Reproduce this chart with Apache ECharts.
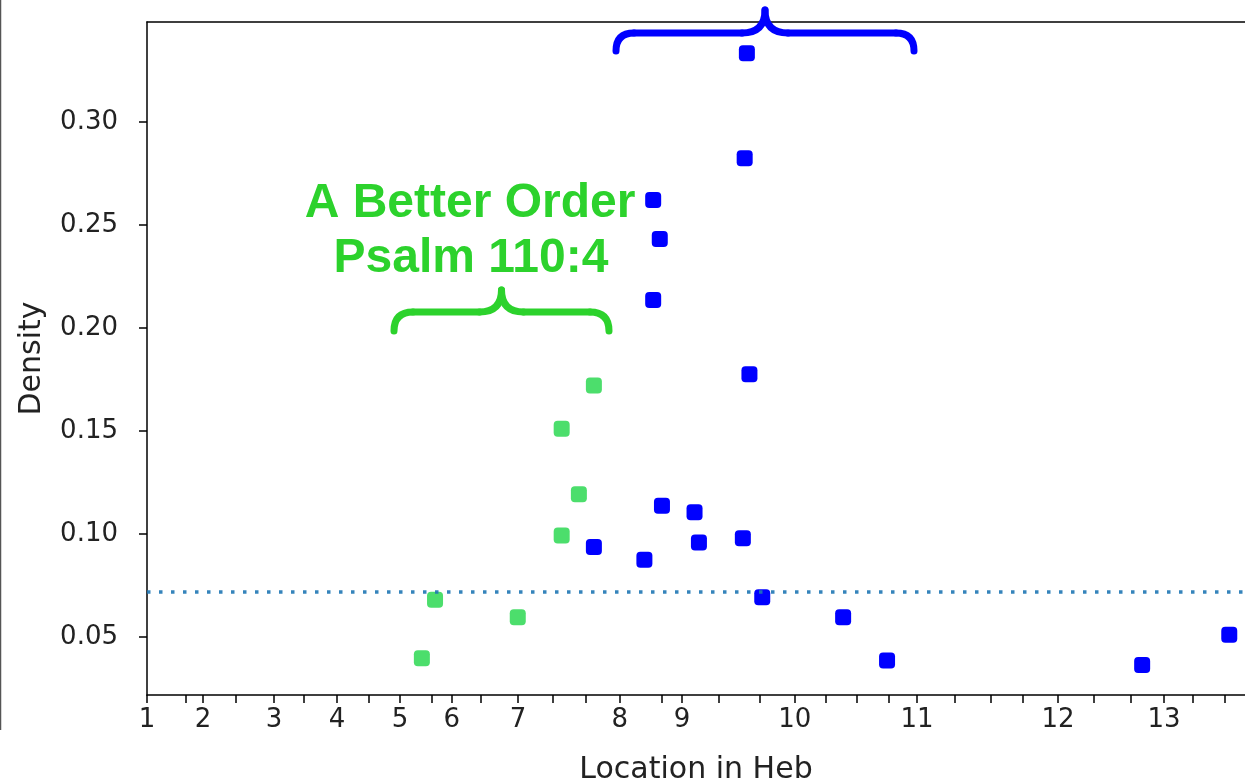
<!DOCTYPE html>
<html><head><meta charset="utf-8">
<script src="https://cdn.jsdelivr.net/npm/echarts@6/dist/echarts.min.js"></script>
<style>html,body{margin:0;padding:0;background:#fff}#c{width:1245px;height:783px}</style>
</head><body><div id="c"></div>
<script>
// Chapter labels of Hebrews and where each chapter starts on the location axis
const chapterLabels = ['1','2','3','4','5','6','7','8','9','10','11','12','13'];
const chapterStarts = [0, 15.3, 34.7, 51.9, 69.1, 83.3, 101.4, 129.2, 146.2, 177.0, 210.4, 248.9, 277.9];
// Unlabelled tick positions
const minorTicks = [10.7, 24.3, 42.9, 60.7, 77.9, 91.3, 110.9, 119.9, 140.7, 156.3, 167.5, 185.5, 194.0, 202.7, 220.8, 230.6, 239.3, 258.7, 268.9, 285.8, 294.5];
const yTicks = [0.05, 0.10, 0.15, 0.20, 0.25, 0.30];

// "A Better Order / Psalm 110:4" points (green)
const greenX = [75.1, 78.7, 101.3, 113.3, 113.3, 118.0, 122.1];
const greenY = [0.0397, 0.0680, 0.0596, 0.0992, 0.1510, 0.1193, 0.1720];
// other points (blue)
const blueX = [122.1, 135.9, 138.3, 140.1, 138.3, 140.7, 149.6, 150.8, 162.8, 163.3, 163.9, 164.6, 168.1, 190.2, 202.2, 271.9, 295.7];
const blueY = [0.0937, 0.0874, 0.2621, 0.2431, 0.2136, 0.1137, 0.1105, 0.0958, 0.0979, 0.2824, 0.3333, 0.1775, 0.0693, 0.0596, 0.0385, 0.0364, 0.0511];
const threshold = 0.0718;

const chart = echarts.init(document.getElementById('c'), null, {renderer: 'canvas'});
const tickFont = 'DejaVu Sans';
const pair = (xs, ys) => xs.map((x, i) => [x, ys[i]]);
const allXTicks = chapterStarts.concat(minorTicks).sort((a, b) => a - b);

// horizontal curly brace (annotation), opening downward
function brace(xl, xr, yEnd, yLine, yPeak, color) {
  const r = yEnd - yLine, xm = (xl + xr) / 2, pr = yLine - yPeak;
  const st = {stroke: color, lineWidth: 7, fill: null, lineCap: 'round', lineJoin: 'round'};
  const mk = (type, shape) => ({type, shape, style: Object.assign({}, st), z: 10, silent: true});
  return [
    mk('bezierCurve', {x1: xl, y1: yEnd, cpx1: xl, cpy1: yLine, x2: xl + r, y2: yLine}),
    mk('line', {x1: xl + r, y1: yLine, x2: xm - pr, y2: yLine}),
    mk('bezierCurve', {x1: xm - pr, y1: yLine, cpx1: xm, cpy1: yLine, x2: xm, y2: yPeak}),
    mk('bezierCurve', {x1: xm, y1: yPeak, cpx1: xm, cpy1: yLine, x2: xm + pr, y2: yLine}),
    mk('line', {x1: xm + pr, y1: yLine, x2: xr - r, y2: yLine}),
    mk('bezierCurve', {x1: xr - r, y1: yLine, cpx1: xr, cpy1: yLine, x2: xr, y2: yEnd})
  ];
}

chart.setOption({
  backgroundColor: '#fff',
  animation: false,
  grid: {left: 147, right: 0, top: 22, bottom: 88, containLabel: false, outerBoundsMode: 'none', show: false},
  xAxis: [{
    type: 'value', min: 0, max: 300, position: 'bottom',
    name: 'Location in Heb', nameLocation: 'middle', nameGap: 60,
    nameTextStyle: {fontFamily: tickFont, fontSize: 30, color: '#222'},
    axisLine: {show: true, onZero: false, lineStyle: {color: '#000', width: 1.5}},
    axisTick: {show: true, length: 8, lineStyle: {color: '#000', width: 1.5}, customValues: allXTicks},
    axisLabel: {show: true, margin: 12, fontFamily: tickFont, fontSize: 26, color: '#222',
      customValues: chapterStarts,
      formatter: v => { const i = chapterStarts.findIndex(c => Math.abs(c - v) < 1e-6); return i >= 0 ? chapterLabels[i] : ''; }},
    splitLine: {show: false}
  }, {
    type: 'value', min: 0, max: 300, position: 'top',
    axisLine: {show: true, onZero: false, lineStyle: {color: '#000', width: 1.5}},
    axisTick: {show: false}, axisLabel: {show: false}, splitLine: {show: false}
  }],
  yAxis: {
    type: 'value', min: 0.0218, max: 0.3485,
    name: 'Density', nameLocation: 'middle', nameGap: 100, nameRotate: 90,
    nameTextStyle: {fontFamily: tickFont, fontSize: 30, color: '#222'},
    axisLine: {show: true, onZero: false, lineStyle: {color: '#000', width: 1.5}},
    axisTick: {show: true, length: 8, lineStyle: {color: '#000', width: 1.5}, customValues: yTicks},
    axisLabel: {show: true, margin: 29, fontFamily: tickFont, fontSize: 26, color: '#222',
      customValues: yTicks, formatter: v => v.toFixed(2)},
    splitLine: {show: false}
  },
  series: [
    {type: 'scatter', name: 'green', data: pair(greenX, greenY), symbol: 'roundRect', symbolSize: 16,
     itemStyle: {color: '#4cde6c', opacity: 1}, z: 3,
     markLine: {silent: true, precision: 4, symbol: ['none', 'none'], label: {show: false},
       lineStyle: {color: '#1f77b4', width: 3.5, type: [3.5, 8.5], cap: 'butt', opacity: 0.9},
       data: [{yAxis: threshold}]}},
    {type: 'scatter', name: 'blue', data: pair(blueX, blueY), symbol: 'roundRect', symbolSize: 16,
     itemStyle: {color: '#0000ff', opacity: 1}, z: 3}
  ],
  graphic: [
    {type: 'line', shape: {x1: 0.5, y1: 0, x2: 0.5, y2: 730}, style: {stroke: '#555', lineWidth: 1.5}, silent: true},
    ...brace(394, 609, 331, 312, 290, '#2cd22c'),
    ...brace(616, 914, 51, 33, 10, '#0000ff'),
    {type: 'text', x: 470, y: 204, style: {text: 'A Better Order', fill: '#2cd22c', font: 'bold 48px "Liberation Sans", Arial, sans-serif', align: 'center', verticalAlign: 'middle'}, z: 10},
    {type: 'text', x: 471, y: 259, style: {text: 'Psalm 110:4', fill: '#2cd22c', font: 'bold 48px "Liberation Sans", Arial, sans-serif', align: 'center', verticalAlign: 'middle'}, z: 10}
  ]
});
</script>
</body></html>
